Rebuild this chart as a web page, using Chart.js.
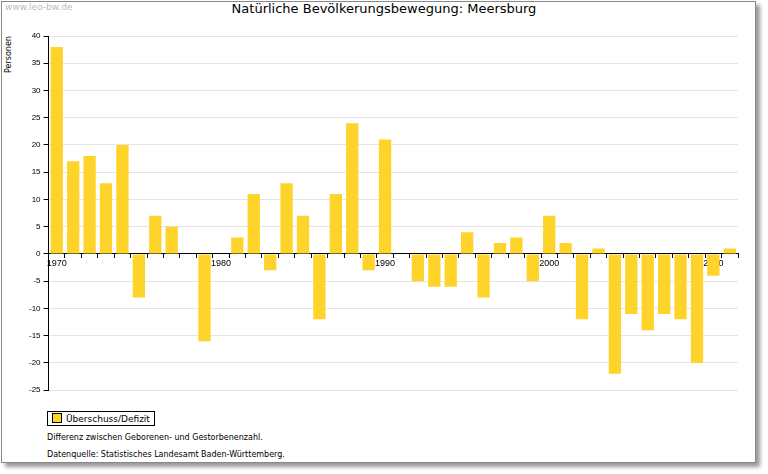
<!DOCTYPE html>
<html><head><meta charset="utf-8">
<script src="https://cdn.jsdelivr.net/npm/chart.js@4"></script>
<style>
body{margin:0;background:#fff;font-family:"DejaVu Sans",sans-serif;}
#frame{position:absolute;left:1px;top:1px;width:753px;height:460px;border:1px solid #888;box-shadow:4px 4px 4px #999;background:#fff;}
#wm{position:absolute;left:5px;top:2px;font-size:9px;color:#bbb;}
#title{position:absolute;left:0;width:768px;top:1px;text-align:center;font-size:13px;color:#000;}
#cv{position:absolute;left:0;top:20px;}
#yt{position:absolute;left:-10px;top:50px;font-size:8px;transform:rotate(-90deg);}
#leg{position:absolute;left:47px;top:411px;border:1px solid #000;font-size:9px;padding:1px 4px 1px 4px;}
#leg span{display:inline-block;width:8px;height:8px;background:#FFD42A;border:1px solid #000;margin-right:4px;vertical-align:-1px;}
.n{position:absolute;left:47px;font-size:8px;}
</style></head><body>
<div id="frame"></div>
<div id="wm">www.leo-bw.de</div>
<div id="title">Natürliche Bevölkerungsbewegung: Meersburg</div>
<div id="yt">Personen</div>
<canvas id="cv" width="760" height="378"></canvas>
<div id="leg"><span></span>Überschuss/Defizit</div>
<div class="n" style="top:433px">Differenz zwischen Geborenen- und Gestorbenenzahl.</div>
<div class="n" style="top:450px">Datenquelle: Statistisches Landesamt Baden-Württemberg.</div>
<script>
const years=[];for(let y=1970;y<=2011;y++)years.push(String(y));
const values=[38,17,18,13,20,-8,7,5,0,-16,0,3,11,-3,13,7,-12,11,24,-3,21,0,-5,-6,-6,4,-8,2,3,-5,7,2,-12,1,-22,-11,-14,-11,-12,-20,-4,1];
const yTicks=[40,35,30,25,20,15,10,5,0,-5,-10,-15,-20,-25];
new Chart(document.getElementById('cv'),{type:'bar',
data:{labels:years,datasets:[{data:values,backgroundColor:'#FFD42A',categoryPercentage:1,barPercentage:0.75}]},
options:{responsive:false,animation:false,layout:{padding:{left:26,right:22,top:16,bottom:0}},
plugins:{legend:{display:false},tooltip:{enabled:false}},
scales:{
x:{position:{y:0},grid:{drawOnChartArea:false,tickLength:4,color:'#000',offset:true},border:{color:'#000'},
ticks:{color:'#000',font:{size:9},maxRotation:0,autoSkip:false,padding:0,callback:(v,i)=>years[i]%10===0?years[i]:''}},
y:{min:-25,max:40,afterBuildTicks:a=>{a.ticks=yTicks.map(v=>({value:v}));},
grid:{color:'#e4e4e4',tickLength:5,tickColor:'#000'},border:{color:'#000'},
ticks:{color:'#000',font:{size:8},padding:3}}}}});
</script></body></html>
